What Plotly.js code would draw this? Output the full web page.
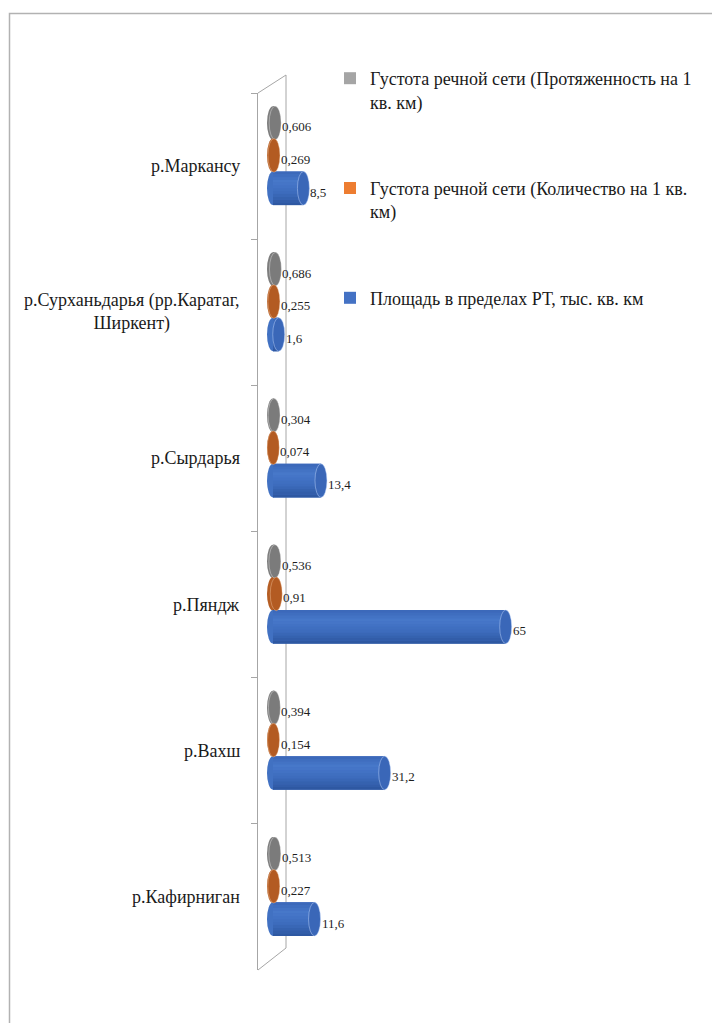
<!DOCTYPE html>
<html>
<head>
<meta charset="utf-8">
<script src="https://cdn.plot.ly/plotly-3.0.1.min.js"></script>
<style>
  html, body { margin: 0; padding: 0; background: #ffffff; }
  #chart { width: 712px; height: 1023px; }
</style>
</head>
<body>
<div id="chart"></div>
<script>
// Rivers of Tajikistan: basin area and river-network density
const rivers = [
  'р.Маркансу',
  'р.Сурханьдарья (рр.Каратаг, Ширкент)',
  'р.Сырдарья',
  'р.Пяндж',
  'р.Вахш',
  'р.Кафирниган'
];
const riverLabels = [
  'р.Маркансу',
  'р.Сурханьдарья (рр.Каратаг,<br>Ширкент)',
  'р.Сырдарья',
  'р.Пяндж',
  'р.Вахш',
  'р.Кафирниган'
];
const lengthDensity = [0.606, 0.686, 0.304, 0.536, 0.394, 0.513];
const countDensity  = [0.269, 0.255, 0.074, 0.91, 0.154, 0.227];
const basinArea     = [8.5, 1.6, 13.4, 65, 31.2, 11.6];
const seriesNames = [
  'Густота речной сети (Протяженность на 1<br>кв. км)',
  'Густота речной сети (Количество на 1 кв.<br>км)',
  'Площадь в пределах РТ, тыс. кв. км'
];

// ---- geometry ----
const W = 712, H = 1023;
const M = { l: 258, r: 2, t: 93, b: 53, autoexpand: false };
const PLOT_W = W - M.l - M.r, PLOT_H = H - M.t - M.b;
const PX_PER_UNIT = 3.58;   // horizontal scale of the value axis
const ZERO_PX = 273;        // page x of value 0
const CAP_PX = 12;          // width of the cylinder end ellipses
const BAR_W = 0.23;         // bar thickness in category units
const capHalf = CAP_PX / 2 / PX_PER_UNIT;
const xRange = [(M.l - ZERO_PX) / PX_PER_UNIT, (W - M.r - ZERO_PX) / PX_PER_UNIT];

const SERIF = 'Liberation Serif, Times New Roman, serif';
const WALL = '#a6a6a6';

const px2x = px => (px - M.l) / PLOT_W;
const px2y = py => 1 - (py - M.t) / PLOT_H;
const fmt = v => String(v).replace('.', ',');

// cylinder shading: colour stops across the thickness (top -> bottom)
const STOP_POS = [0, 0.3, 0.62, 1];
const N_BANDS = 12;
const hex2rgb = h => [1, 3, 5].map(p => parseInt(h.slice(p, p + 2), 16));
function shadeAt(stops, t) {
  let k = 0;
  while (k < STOP_POS.length - 2 && t > STOP_POS[k + 1]) k++;
  const f = (t - STOP_POS[k]) / (STOP_POS[k + 1] - STOP_POS[k]);
  const a = hex2rgb(stops[k]), b = hex2rgb(stops[k + 1]);
  const c = a.map((v, i) => Math.round(v + (b[i] - v) * f));
  return 'rgb(' + c.join(',') + ')';
}

const series = [
  { name: seriesNames[0], values: lengthDensity, legend: '#A5A5A5', center: -0.295,
    stops: ['#6e6e6e', '#888888', '#767676', '#5a5a5a'], cap: '#7b7b7b', rim: 'rgba(255,255,255,0.35)' },
  { name: seriesNames[1], values: countDensity, legend: '#ED7D31', center: -0.073,
    stops: ['#a8531d', '#be6429', '#b05820', '#8c4414'], cap: '#b35b22', rim: 'rgba(255,220,190,0.35)' },
  { name: seriesNames[2], values: basinArea, legend: '#4472C4', center: 0.152,
    stops: ['#3a67b7', '#4778ca', '#3d6cbd', '#2c569f'], cap: '#3a67b8', rim: 'rgba(200,220,255,0.45)' }
];

const traces = [];
const shapes = [];
const annotations = [];

// wall of the 3-D frame
shapes.push(
  { type: 'line', xref: 'paper', yref: 'paper', layer: 'below',
    x0: px2x(286), y0: px2y(75), x1: px2x(286), y1: px2y(948), line: { color: WALL, width: 1 } },
  { type: 'line', xref: 'paper', yref: 'paper', layer: 'below',
    x0: px2x(258), y0: px2y(93), x1: px2x(286), y1: px2y(75), line: { color: WALL, width: 1 } },
  { type: 'line', xref: 'paper', yref: 'paper', layer: 'below',
    x0: px2x(258), y0: px2y(970), x1: px2x(286), y1: px2y(948), line: { color: WALL, width: 1 } }
);

// outer chart border
shapes.push({ type: 'rect', xref: 'paper', yref: 'paper', layer: 'below',
  x0: px2x(9.5), x1: px2x(740), y0: px2y(13.5), y1: px2y(1060),
  line: { color: '#b2b2b2', width: 1.5 }, fillcolor: 'rgba(0,0,0,0)' });

series.forEach((s, k) => {
  const off = s.center - BAR_W / 2;
  // legend-bearing trace
  traces.push({
    type: 'bar', orientation: 'h', y: rivers, x: s.values,
    offset: off, width: BAR_W, name: s.name, legendgroup: 'g' + k,
    marker: { color: s.legend, line: { width: 0 } },
    hovertemplate: '%{y}: %{x}<extra></extra>'
  });
  // cylinder body, drawn as thin shaded bands
  for (let j = 0; j < N_BANDS; j++) {
    const t0 = j / N_BANDS, t1 = (j + 1) / N_BANDS;
    traces.push({
      type: 'bar', orientation: 'h', y: rivers, x: s.values,
      offset: off + t0 * BAR_W, width: (t1 - t0) * BAR_W * 1.02,
      marker: { color: shadeAt(s.stops, (t0 + t1) / 2), line: { width: 0 } },
      showlegend: false, hoverinfo: 'skip'
    });
  }
  s.values.forEach((v, i) => {
    const y0 = i + off, y1 = i + off + BAR_W;
    // rounded base of the cylinder
    shapes.push({ type: 'circle', xref: 'x', yref: 'y', layer: 'below',
      x0: -capHalf, x1: capHalf, y0: y0, y1: y1,
      fillcolor: shadeAt(s.stops, 0.5), line: { width: 0 } });
    // end cap
    shapes.push({ type: 'circle', xref: 'x', yref: 'y', layer: 'above',
      x0: v - capHalf, x1: v + capHalf, y0: y0, y1: y1,
      fillcolor: s.cap, line: { color: s.rim, width: 1 } });
    // value label
    annotations.push({ xref: 'x', yref: 'y', x: v, y: i + s.center,
      xanchor: 'left', yanchor: 'middle', xshift: CAP_PX / 2 - 1, yshift: -4,
      text: fmt(v), showarrow: false,
      font: { family: SERIF, size: 13, color: '#1e1e1e' } });
  });
});

// category labels
riverLabels.forEach((lab, i) => {
  annotations.push({ xref: 'paper', yref: 'y', x: 0, y: i, xshift: -16,
    xanchor: 'right', yanchor: 'middle', align: 'center',
    text: lab, showarrow: false,
    font: { family: SERIF, size: 18, color: '#1a1a1a' } });
});

const layout = {
  width: W, height: H,
  margin: M,
  paper_bgcolor: '#ffffff', plot_bgcolor: 'rgba(0,0,0,0)',
  barmode: 'overlay',
  showlegend: true,
  legend: {
    xref: 'container', yref: 'container',
    x: 330 / W, y: 1 - 60 / H, xanchor: 'left', yanchor: 'top',
    traceorder: 'grouped', tracegroupgap: 60, valign: 'top',
    bgcolor: 'rgba(0,0,0,0)',
    font: { family: SERIF, size: 18, color: '#1a1a1a' }
  },
  xaxis: {
    range: xRange, visible: false, fixedrange: true
  },
  yaxis: {
    type: 'category', categoryorder: 'array', categoryarray: rivers,
    range: [rivers.length - 0.5, -0.5],
    showline: true, linecolor: WALL, linewidth: 1,
    ticks: 'outside', tickson: 'boundaries', ticklen: 6, tickcolor: WALL, tickwidth: 1,
    showticklabels: false, showgrid: false, zeroline: false, fixedrange: true
  },
  shapes: shapes,
  annotations: annotations
};

Plotly.newPlot('chart', traces, layout, { displayModeBar: false, staticPlot: true });
</script>
</body>
</html>
